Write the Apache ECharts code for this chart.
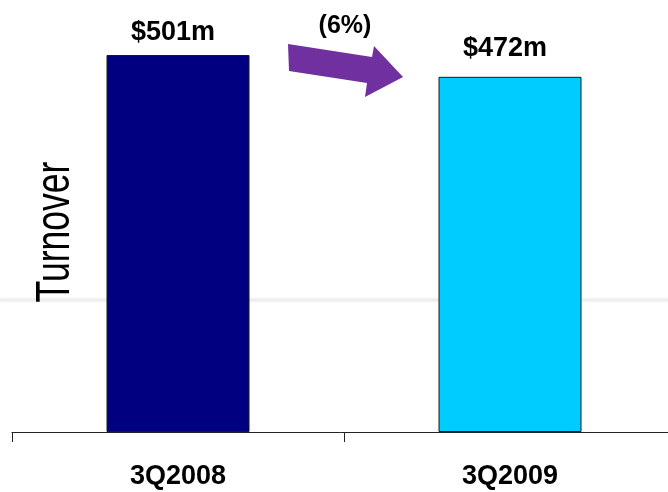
<!DOCTYPE html>
<html>
<head>
<meta charset="utf-8">
<script src="https://cdn.jsdelivr.net/npm/echarts@6/dist/echarts.min.js"></script>
<style>
  html, body { margin: 0; padding: 0; background: #fff; }
  #chart { width: 668px; height: 492px; }
</style>
</head>
<body>
<div id="chart"></div>
<script>
// Quarterly turnover, US$ millions
const quarters = ['3Q2008', '3Q2009'];
const turnover = [501, 472];
const barColors = ['#000080', '#00CCFF'];
const changeLabel = '(6%)';
const axisTitle = 'Turnover';

const chart = echarts.init(document.getElementById('chart'), null, { renderer: 'canvas' });

const labelGaps = [9, 15];

const option = {
  animation: false,
  backgroundColor: '#ffffff',
  // plot area runs past the right edge so the axis line reaches the border
  grid: { left: 12, width: 664, top: 55, bottom: 60, containLabel: false, outerBoundsMode: 'none' },
  xAxis: {
    type: 'category',
    data: quarters,
    boundaryGap: true,
    axisLine: { show: true, lineStyle: { color: '#222', width: 1 } },
    axisTick: { show: true, length: 10, alignWithLabel: false, lineStyle: { color: '#222', width: 1 } },
    axisLabel: {
      margin: 31,
      color: '#000',
      fontFamily: 'Liberation Sans, Arial, sans-serif',
      fontWeight: 'bold',
      fontSize: 27
    }
  },
  yAxis: {
    type: 'value',
    min: 0,
    max: 501,
    show: false,
    splitLine: { show: false }
  },
  series: [{
    type: 'bar',
    barWidth: 143,
    data: turnover.map((v, i) => ({
      value: v,
      itemStyle: { color: barColors[i], borderColor: '#1a1a1a', borderWidth: 1 },
      label: { distance: labelGaps[i] }
    })),
    label: {
      show: true,
      position: 'top',
      offset: [-5, 0],
      color: '#000',
      fontFamily: 'Liberation Sans, Arial, sans-serif',
      fontWeight: 'bold',
      fontSize: 27,
      formatter: p => '$' + p.value + 'm'
    }
  }],
  graphic: [
    // soft grey rule running behind the bars
    {
      type: 'line',
      z: -10,
      shape: { x1: 0, y1: 300, x2: 668, y2: 300 },
      style: { stroke: '#eeeeee', lineWidth: 3, shadowBlur: 3, shadowColor: 'rgba(0,0,0,0.05)' }
    },
    // change arrow between the two quarters
    {
      type: 'polygon',
      z: 10,
      shape: {
        points: [[288, 44], [372, 57], [374, 46], [403, 77], [365, 97], [367, 83], [289, 71]]
      },
      style: { fill: '#7030A0' }
    },
    {
      type: 'text',
      z: 10,
      x: 345,
      y: 26,
      style: {
        text: changeLabel,
        fill: '#000',
        font: 'bold 25px "Liberation Sans", Arial, sans-serif',
        textAlign: 'center',
        textVerticalAlign: 'middle'
      }
    },
    {
      type: 'text',
      z: 10,
      x: 56,
      y: 232,
      rotation: Math.PI / 2,
      scaleX: 0.74,
      style: {
        text: axisTitle,
        fill: '#000',
        font: '48px "Liberation Sans", Arial, sans-serif',
        textAlign: 'center',
        textVerticalAlign: 'middle'
      }
    }
  ]
};

chart.setOption(option);
</script>
</body>
</html>
